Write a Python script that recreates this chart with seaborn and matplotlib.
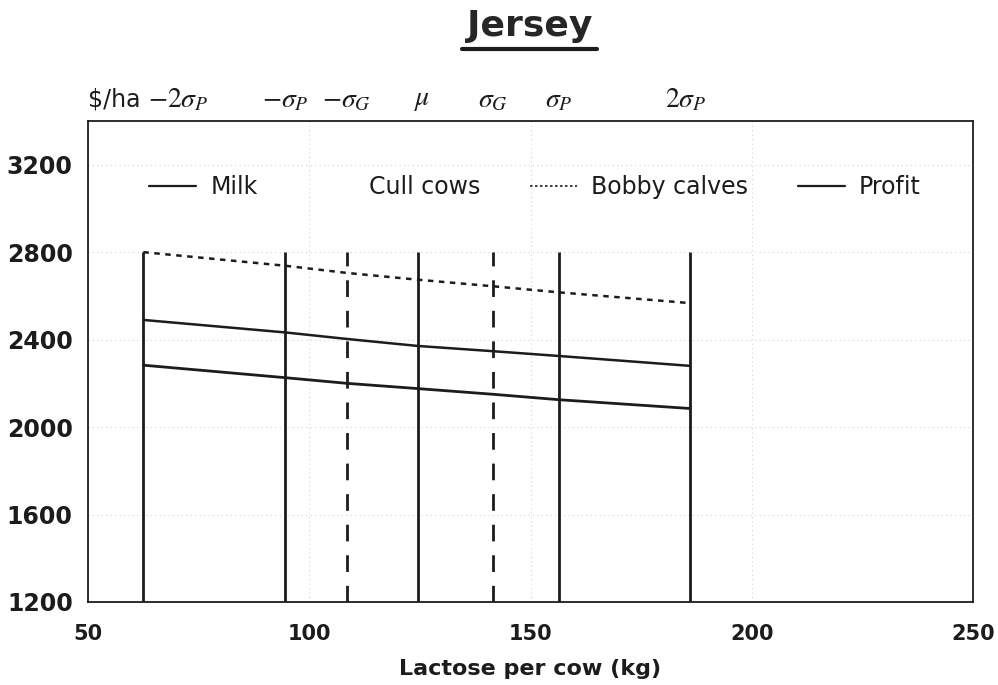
import numpy as np
import pandas as pd
import matplotlib
matplotlib.use("Agg")
import matplotlib.pyplot as plt
import seaborn as sns
from matplotlib.lines import Line2D
import matplotlib.transforms as mtransforms

# ---------------- data ----------------
x_points = [62.5, 94.5, 108.5, 124.5, 141.5, 156.5, 186.0]
bobby_calves = [2800, 2738, 2705, 2674, 2644, 2616, 2567]
milk = [2490, 2433, 2403, 2371, 2347, 2325, 2280]
profit = [2283, 2226, 2200, 2176, 2150, 2125, 2085]

marker_x = [62.5, 94.5, 108.5, 124.5, 141.5, 156.5, 186.0]
marker_dashed = [False, False, True, False, True, False, False]
marker_labels = [r"$-2\sigma_P$", r"$-\sigma_P$", r"$-\sigma_G$", r"$\mu$",
                 r"$\sigma_G$", r"$\sigma_P$", r"$2\sigma_P$"]
marker_label_offset = [8, 0, 0, 1, 0, 0, -1]

y_ticks = [1200, 1600, 2000, 2400, 2800, 3200]
x_ticks = [50, 100, 150, 200, 250]
legend_labels = ["Milk", "Cull cows", "Bobby calves", "Profit"]

# ---------------- style ----------------
sns.set_theme(style="white")
plt.rcParams['font.family'] = ['DejaVu Sans']
plt.rcParams['mathtext.fontset'] = 'stix'

fig = plt.figure(figsize=(9.98, 6.85), dpi=100)
ax = fig.add_axes([0.0882, 0.1212, 0.8868, 0.7022])

dark = "#1c1c1c"

df = pd.DataFrame({"x": x_points, "bobby": bobby_calves, "milk": milk, "profit": profit})
sns.lineplot(data=df, x="x", y="bobby", ax=ax, color=dark, lw=1.8, linestyle=(0, (2.2, 2.2)))
sns.lineplot(data=df, x="x", y="milk", ax=ax, color=dark, lw=1.8)
sns.lineplot(data=df, x="x", y="profit", ax=ax, color=dark, lw=2.0)

for xv, dashed in zip(marker_x, marker_dashed):
    ax.vlines(xv, 1200, 2800, colors=dark, lw=2.0,
              linestyles=(0, (6, 5)) if dashed else "solid")

ax.set_xlim(50, 250)
ax.set_ylim(1200, 3400)
ax.set_xticks(x_ticks)
ax.set_yticks(y_ticks)
ax.set_xticklabels([str(v) for v in x_ticks], fontsize=15, fontweight="bold", color=dark)
ax.set_yticklabels([str(v) for v in y_ticks], fontsize=17, fontweight="bold", color=dark)
ax.tick_params(axis="both", length=0)
ax.tick_params(axis="x", pad=16)
ax.tick_params(axis="y", pad=11)

ax.grid(True, color="#d2d2d2", lw=0.8, linestyle=(0, (1, 3)))
for s in ax.spines.values():
    s.set_color(dark)
    s.set_linewidth(1.3)

ax.set_xlabel("Lactose per cow (kg)", fontsize=16, fontweight="bold", color=dark, labelpad=11)
ax.set_ylabel("")

# top sigma labels
trans = mtransforms.blended_transform_factory(ax.transData, ax.transAxes)
ax.text(50, 1.045, "$/ha", transform=trans, ha="left", va="center",
        fontsize=17, color=dark)
for xv, lab, off in zip(marker_x, marker_labels, marker_label_offset):
    ax.text(xv + off, 1.045, lab, transform=trans, ha="center", va="center",
            fontsize=20, color=dark)

# legend
handles = [
    Line2D([], [], color=dark, lw=1.6),
    Line2D([], [], color="none", lw=1.6),
    Line2D([], [], color=dark, lw=1.2, linestyle=(0, (1.5, 1.5))),
    Line2D([], [], color=dark, lw=1.6),
]
leg = ax.legend(handles, legend_labels, ncol=4, frameon=False, loc="center",
                bbox_to_anchor=(0.505, 0.862), handlelength=2.0,
                handletextpad=0.6, columnspacing=2.1,
                prop={"family": "DejaVu Sans", "size": 17})
for t in leg.get_texts():
    t.set_color(dark)

# title with underline
fig.text(0.5305, 1 - 36 / 685, "Jersey", ha="center", va="baseline", fontsize=26,
         color="#262626", fontweight="bold")
fig.add_artist(Line2D([0.463, 0.598], [1 - 49 / 685, 1 - 49 / 685], color=dark, lw=3,
                      transform=fig.transFigure))

fig.savefig("out.png", dpi=100, facecolor="white")
